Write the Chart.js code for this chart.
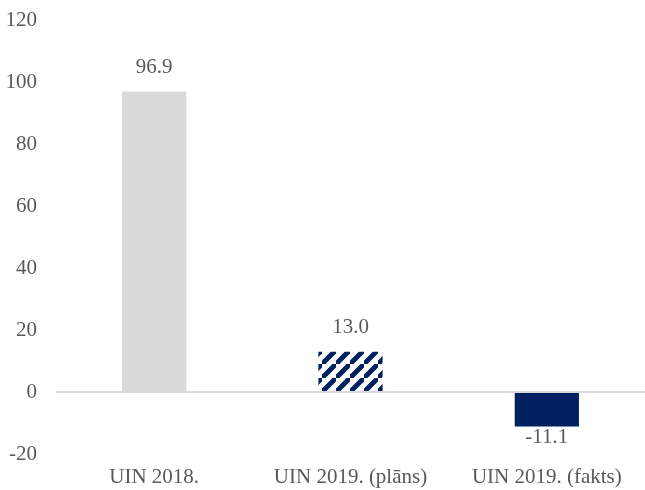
<!DOCTYPE html>
<html>
<head>
<meta charset="utf-8">
<script src="https://cdn.jsdelivr.net/npm/chart.js@4/dist/chart.umd.min.js"></script>
<style>
  html, body { margin: 0; padding: 0; background: #fff; }
  #wrap { width: 645px; height: 490px; }
</style>
</head>
<body>
<div id="wrap"><canvas id="c"></canvas></div>
<script>
const categories = ['UIN 2018.', 'UIN 2019. (plāns)', 'UIN 2019. (fakts)'];
const values = [96.9, 13.0, -11.1];
const yTicks = { min: -20, max: 120, step: 20 };

const FONT = '"Liberation Serif", "Times New Roman", serif';

// diagonal hatch for the plan bar
function makeHatch() {
    const s = 14;
    const p = document.createElement('canvas');
    p.width = s; p.height = s;
    const g = p.getContext('2d');
    g.fillStyle = '#ffffff';
    g.fillRect(0, 0, s, s);
    g.strokeStyle = '#002060';
    g.lineWidth = 5;
    g.beginPath();
    g.moveTo(-s, s * 2); g.lineTo(s * 2, -s);
    g.moveTo(-s * 2, s); g.lineTo(s, -s * 2);
    g.moveTo(0, s * 3); g.lineTo(s * 3, 0);
    g.stroke();
    return g.createPattern(p, 'repeat');
}

const ctx = document.getElementById('c').getContext('2d');
const colors = ['#d9d9d9', makeHatch(), '#002060'];

const valueLabels = {
    id: 'valueLabels',
    afterDatasetsDraw(chart) {
        const c = chart.ctx;
        const meta = chart.getDatasetMeta(0);
        c.save();
        c.font = '21px ' + FONT;
        c.fillStyle = '#595959';
        c.textAlign = 'center';
        c.textBaseline = 'middle';
        meta.data.forEach((bar, i) => {
            const v = values[i];
            const y = v >= 0 ? bar.y - 24 : bar.y + 11;
            c.fillText(v.toFixed(1), bar.x, y);
        });
        c.restore();
    }
};

new Chart(ctx, {
    type: 'bar',
    data: {
        labels: categories,
        datasets: [{
            data: values,
            backgroundColor: colors,
            borderWidth: 0,
            categoryPercentage: 1,
            barPercentage: 0.327
        }]
    },
    options: {
        responsive: true,
        maintainAspectRatio: false,
        animation: false,
        layout: { padding: { left: 4, right: 0, top: 20, bottom: 0 } },
        plugins: {
            legend: { display: false },
            tooltip: { enabled: false }
        },
        scales: {
            x: {
                grid: { display: false, drawTicks: false },
                border: { display: false },
                afterFit: s => { s.height = 36; },
                ticks: {
                    color: '#595959',
                    padding: 11,
                    maxRotation: 0,
                    font: { family: FONT, size: 21 }
                }
            },
            y: {
                min: yTicks.min,
                max: yTicks.max,
                border: { display: false },
                afterFit: s => { s.width = 52; s.paddingTop = 0; s.paddingBottom = 0; },
                grid: {
                    drawTicks: false,
                    lineWidth: 2,
                    color: c => c.tick && c.tick.value === 0 ? '#d9d9d9' : 'rgba(0,0,0,0)'
                },
                ticks: {
                    stepSize: yTicks.step,
                    color: '#595959',
                    padding: 19,
                    font: { family: FONT, size: 21 }
                }
            }
        }
    },
    plugins: [valueLabels]
});
</script>
</body>
</html>
